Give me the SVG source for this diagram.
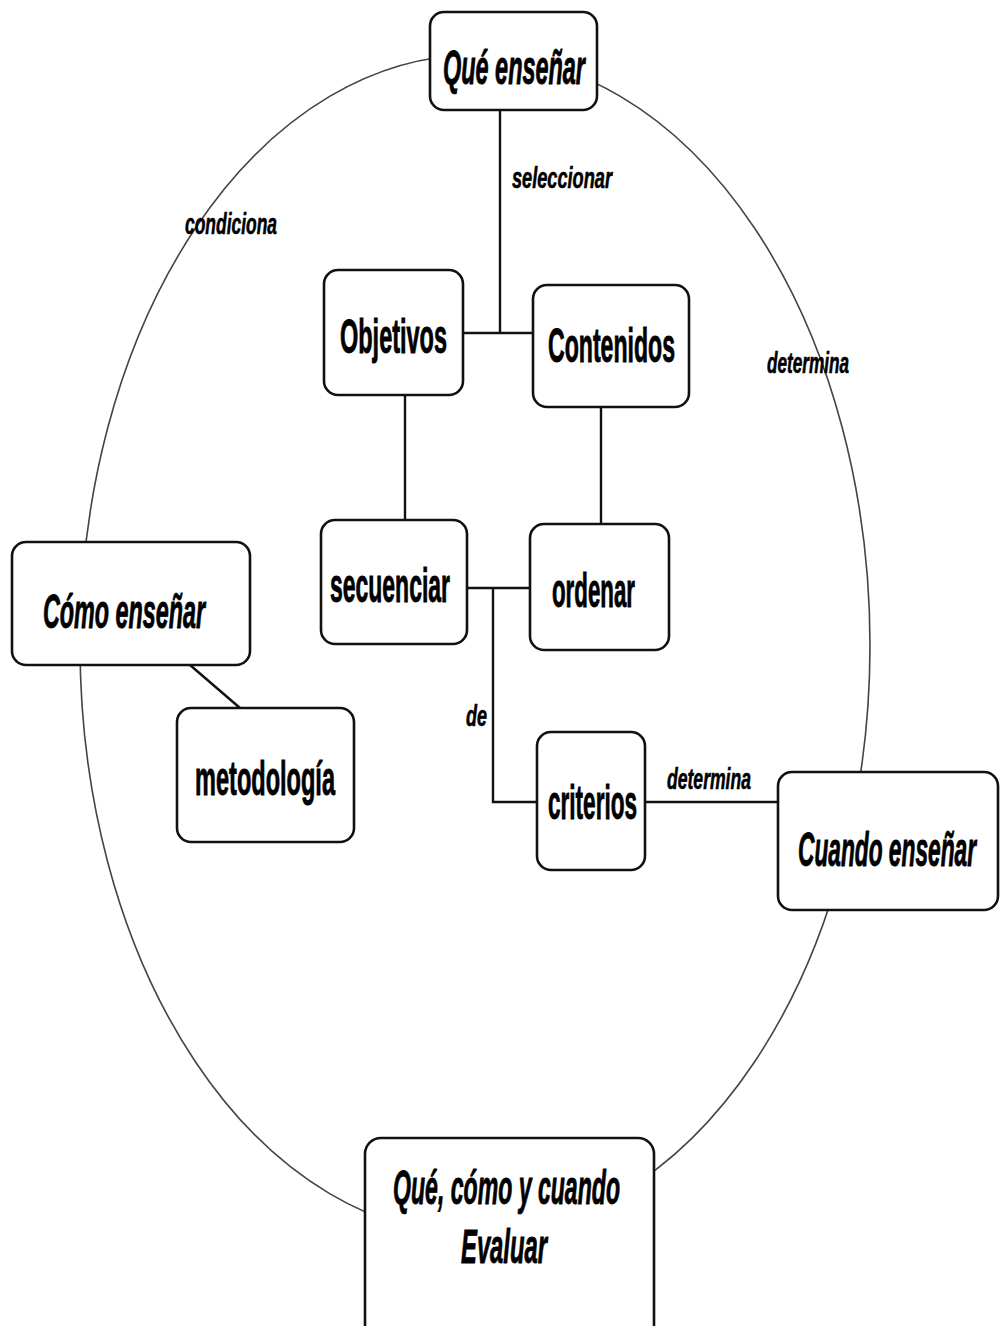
<svg xmlns="http://www.w3.org/2000/svg" width="1001" height="1326" viewBox="0 0 1001 1326">
<style>
.box{fill:#fff;stroke:#111;stroke-width:2.6}
.t{font-family:"Liberation Sans",Arial,sans-serif;font-weight:bold;fill:#000;stroke:#000;stroke-width:0.9}
.big{font-size:48px}
.it{font-style:italic}
.lbl{font-size:29px;font-style:italic;stroke-width:0.6}
.con{fill:none;stroke:#111;stroke-width:2.4}
.ring{fill:none;stroke:#444;stroke-width:1.6}
</style>
<rect width="1001" height="1326" fill="#fff"/>
<g id="connectors">
<ellipse class="ring" cx="475" cy="645" rx="395" ry="590"/>
<path class="con" d="M500 110 V333 M463 333 H533 M405 395 V520 M601 405 V525 M467 588 H530 M493 588 V802 H537 M645 802 H778"/>
<path class="con" d="M190 665 L240 708" stroke-width="2.8"/>
</g>
<g id="labels">
<text class="t lbl" x="512" y="188" textLength="100" lengthAdjust="spacingAndGlyphs">seleccionar</text>
<text class="t lbl" x="185" y="234" textLength="92" lengthAdjust="spacingAndGlyphs">condiciona</text>
<text class="t lbl" x="767" y="373" textLength="82" lengthAdjust="spacingAndGlyphs">determina</text>
<text class="t lbl" x="667" y="789" textLength="84" lengthAdjust="spacingAndGlyphs">determina</text>
<text class="t lbl" x="466" y="726" textLength="21" lengthAdjust="spacingAndGlyphs">de</text>
</g>
<g id="que-ensenar">
<rect class="box" x="430" y="12" width="167" height="98" rx="14"/>
<text class="t big it" x="443" y="84" textLength="142" lengthAdjust="spacingAndGlyphs">Qué enseñar</text>
</g>
<g id="objetivos">
<rect class="box" x="324" y="270" width="139" height="125" rx="14"/>
<text class="t big" x="340" y="353" textLength="107" lengthAdjust="spacingAndGlyphs">Objetivos</text>
</g>
<g id="contenidos">
<rect class="box" x="533" y="285" width="156" height="122" rx="14"/>
<text class="t big" x="548" y="362" textLength="127" lengthAdjust="spacingAndGlyphs">Contenidos</text>
</g>
<g id="secuenciar">
<rect class="box" x="321" y="520" width="146" height="124" rx="14"/>
<text class="t big" x="330" y="602" textLength="120" lengthAdjust="spacingAndGlyphs">secuenciar</text>
</g>
<g id="ordenar">
<rect class="box" x="530" y="524" width="139" height="126" rx="14"/>
<text class="t big" x="552" y="607" textLength="83" lengthAdjust="spacingAndGlyphs">ordenar</text>
</g>
<g id="criterios">
<rect class="box" x="537" y="732" width="108" height="138" rx="14"/>
<text class="t big" x="548" y="819" textLength="89" lengthAdjust="spacingAndGlyphs">criterios</text>
</g>
<g id="cuando-ensenar">
<rect class="box" x="778" y="772" width="220" height="138" rx="14"/>
<text class="t big it" x="798" y="866" textLength="178" lengthAdjust="spacingAndGlyphs">Cuando enseñar</text>
</g>
<g id="como-ensenar">
<rect class="box" x="12" y="542" width="238" height="123" rx="14"/>
<text class="t big it" x="43" y="628" textLength="162" lengthAdjust="spacingAndGlyphs">Cómo enseñar</text>
</g>
<g id="metodologia">
<rect class="box" x="177" y="708" width="177" height="134" rx="14"/>
<text class="t big" x="195" y="795" textLength="140" lengthAdjust="spacingAndGlyphs">metodología</text>
</g>
<g id="evaluar">
<rect class="box" x="365" y="1138" width="289" height="220" rx="16"/>
<text class="t big it" x="393" y="1204" textLength="227" lengthAdjust="spacingAndGlyphs">Qué, cómo y cuando</text>
<text class="t big it" x="461" y="1263" textLength="86" lengthAdjust="spacingAndGlyphs">Evaluar</text>
</g>
</svg>
